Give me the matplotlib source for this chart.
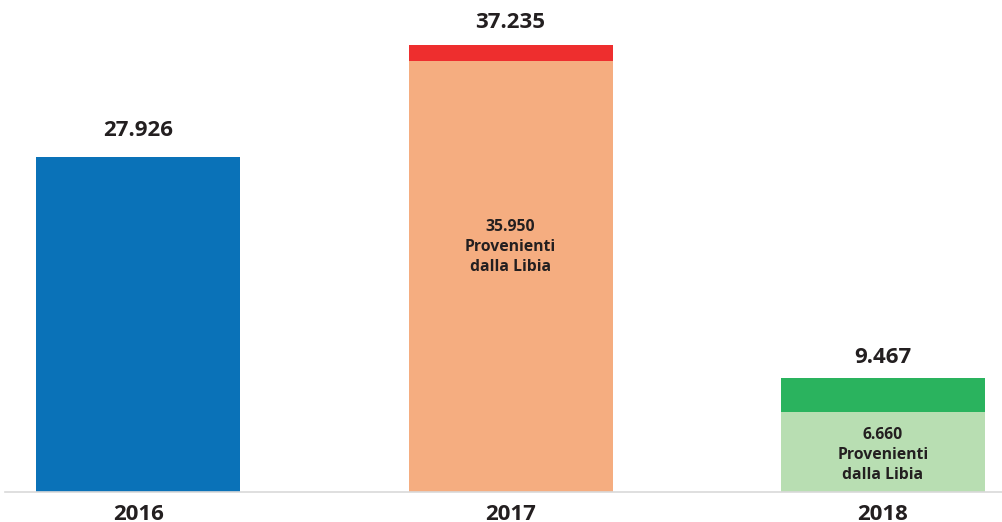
import matplotlib
matplotlib.use("Agg")
import matplotlib.pyplot as plt

years = ["2016", "2017", "2018"]
totals = [27926, 37235, 9467]
libia = [None, 35950, 6660]
total_labels = ["27.926", "37.235", "9.467"]
libia_labels = [None, "35.950", "6.660"]

base_colors = ["#0A72B8", "#F5AD80", "#B8DEB2"]
top_colors = [None, "#EE2E2E", "#2AB35E"]
text_color = "#231F20"

plt.rcParams['font.family'] = ['Open Sans', 'DejaVu Sans']

fig = plt.figure(figsize=(10.03, 5.22), dpi=100)
ax = fig.add_axes([0, 30/522, 1, 492/522])
x = list(range(len(years)))
w = 0.548
label_offsets = [2200, 1880, 1780]

for i in x:
    if libia[i] is None:
        ax.bar(i, totals[i], width=w, color=base_colors[i], zorder=2)
    else:
        ax.bar(i, libia[i], width=w, color=base_colors[i], zorder=2)
        ax.bar(i, totals[i] - libia[i], bottom=libia[i], width=w, color=top_colors[i], zorder=2)
    ax.text(i, totals[i] + label_offsets[i], total_labels[i], ha='center', va='center',
            fontsize=16, fontweight='bold', color=text_color)

ax.text(1, 20400, libia_labels[1] + "\nProvenienti\ndalla Libia", ha='center', va='center',
        fontsize=11.3, fontweight='bold', color=text_color, linespacing=1.32)
ax.text(2, 3080, libia_labels[2] + "\nProvenienti\ndalla Libia", ha='center', va='center',
        fontsize=11.3, fontweight='bold', color=text_color, linespacing=1.32)

ax.set_xlim(-0.372, 2.323)
ax.set_ylim(0, 41000)
ax.set_xticks(x)
ax.set_xticklabels(years, fontsize=16, fontweight='bold', color=text_color)
ax.tick_params(axis='x', length=0, pad=9)
ax.set_yticks([])
for s in ['top', 'right', 'left']:
    ax.spines[s].set_visible(False)
ax.spines['bottom'].set_color('#D9D9D9')
ax.spines['bottom'].set_linewidth(1.2)
ax.spines['bottom'].set_bounds(-0.358, 2.323)
ax.patch.set_alpha(0)

fig.savefig("out.png", dpi=100)
